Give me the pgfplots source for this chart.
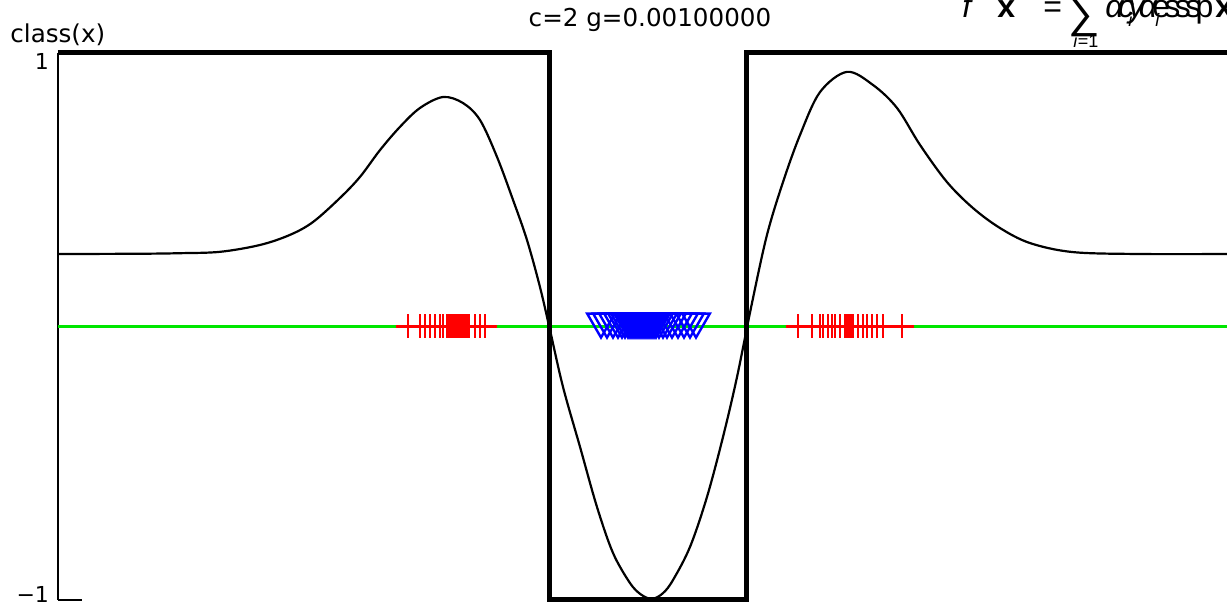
\documentclass[border=0pt]{standalone}
\usepackage{fontspec}
\setmainfont{DejaVu Sans}
\newfontfamily\formfont{Liberation Sans}
\usepackage{pgfplots}
\pgfplotsset{compat=1.18}

\begin{document}
\begin{tikzpicture}
  % 1 px of the reference = 0.5pt; axis box corner sits at px (58,600)
  \useasboundingbox (-29pt,-1.5pt) rectangle (584.5pt,300pt);
  \begin{axis}[
      scale only axis,
      width=584.5pt, height=273.5pt,
      xmin=58, xmax=1227,
      ymin=-1, ymax=1,
      axis x line=none,
      axis y line=left,
      axis line style={-, line width=0.7pt},
      xtick=\empty,
      ytick={-1,1},
      yticklabels={{\raisebox{-1.5pt}[0pt][0pt]{−1}},{\raisebox{-8.5pt}[0pt][0pt]{1}}},
      tick align=inside,
      major tick length=12pt,
      tick style={line width=0.7pt, black},
      yticklabel style={font=\fontsize{11}{13}\selectfont, xshift=-1pt},
      clip=false,
    ]
    % zero line
    \addplot[color={rgb,255:red,0;green,230;blue,0}, line width=1.3pt] coordinates {(58,0) (1227,0)};
    % true class (step)
    \addplot[black, line width=2.5pt] coordinates {
      (58,1) (549,1) (549,-1) (746,-1) (746,1) (1227,1)
    };
    % decision function
    \addplot[black, line width=1.1pt, smooth, tension=0.55] coordinates {
      (58,0.265) (140,0.266) (180,0.268) (220,0.273) (260,0.298) (290,0.335)
      (313,0.382) (340,0.470) (360,0.547) (380,0.645) (400,0.730) (420,0.799)
      (443,0.839) (463,0.817) (480,0.755) (497,0.620) (513,0.463) (527,0.316)
      (540,0.144) (550,-0.013) (563,-0.221) (580,-0.440) (597,-0.660)
      (613,-0.828) (630,-0.938) (641,-0.980) (652,-0.996) (663,-0.975)
      (673,-0.927) (690,-0.806) (707,-0.623) (723,-0.404) (737,-0.185)
      (752,0.086) (767,0.335) (783,0.528) (800,0.700) (820,0.857)
      (847,0.931) (873,0.883) (897,0.799) (920,0.664) (947,0.528) (973,0.433)
      (1000,0.360) (1030,0.305) (1073,0.272) (1140,0.265) (1227,0.265)
    };
    % class +1 samples
    \addplot[only marks, mark=+, mark size=6pt, color=red, line width=1.4pt] coordinates {
      (408,0) (420,0) (425,0) (430,0) (435,0) (440,0) (443,0) (447,0) (449,0)
      (451,0) (453,0) (455,0) (457,0) (459,0) (461,0) (463,0) (465,0) (467,0)
      (469,0) (475,0) (480,0) (485,0)
      (798,0) (812,0) (820,0) (823,0) (828,0) (832,0) (835,0) (840,0) (845,0)
      (847,0) (849,0) (851,0) (853,0) (858,0) (863,0) (867,0) (872,0) (877,0)
      (883,0) (902,0)
    };
    % class -1 samples
    \addplot[only marks, mark=triangle, mark size=8pt, color=blue, line width=1.2pt,
             mark options={rotate=180}] coordinates {
      (601,0.018) (607,0.018) (613,0.018) (618,0.018) (622,0.018) (625,0.018)
      (628,0.018) (630,0.018) (632,0.018) (634,0.018) (636,0.018) (638,0.018)
      (640,0.018) (642,0.018) (644,0.018) (646,0.018) (648,0.018) (650,0.018)
      (652,0.018) (654,0.018) (656,0.018) (659,0.018) (663,0.018) (667,0.018)
      (672,0.018) (678,0.018) (684,0.018) (690,0.018) (696,0.018)
    };
  \end{axis}
  % texts
  \node[anchor=base west, inner sep=0pt, font=\fontsize{12.3}{14}\selectfont] at (-24pt,278.5pt) {class(x)};
  \node[anchor=base, inner sep=0pt, font=\fontsize{12.3}{14}\selectfont] at (296pt,286.5pt) {c=2 g=0.00100000};
  % formula (overprinted in the original)
  \begin{scope}[every node/.style={anchor=base west, inner sep=0pt}]
    \node[font=\formfont\fontsize{16}{18}\selectfont] at (452pt,291pt) {\textit{f}};
    \node[font=\formfont\fontsize{16}{18}\selectfont] at (469.5pt,291pt) {\textbf{x}};
    \node[font=\formfont\fontsize{16}{18}\selectfont] at (492.5pt,291pt) {=};
    \node[font=\formfont\fontsize{22}{24}\selectfont] at (505pt,286pt) {∑};
    \node[font=\formfont\fontsize{9}{10}\selectfont] at (507.5pt,276pt) {\textit{i}=1};
    \node[font=\formfont\fontsize{16}{18}\selectfont] at (523.5pt,291pt)
      {\textit{α\kern-2.8pt c\kern-2.8pt y\kern-2.8pt α}\kern-2.8pt e\kern-2.8pt s\kern-2.8pt s\kern-2.8pt s\kern-2.8pt p};
    \node[font=\formfont\fontsize{9}{10}\selectfont] at (535pt,286.5pt) {\textit{i}};
    \node[font=\formfont\fontsize{9}{10}\selectfont] at (548.5pt,286.5pt) {\textit{i}};
    \node[font=\formfont\fontsize{16}{18}\selectfont] at (578.5pt,291pt) {\textbf{x}};
  \end{scope}
\end{tikzpicture}
\end{document}
